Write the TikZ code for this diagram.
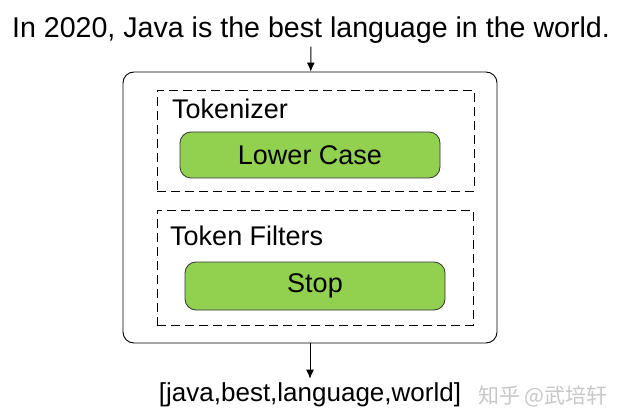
\documentclass[tikz,border=0pt]{standalone}
\usepackage{fontspec}
\setmainfont{Liberation Sans}
\newfontfamily\cjk{Noto Sans CJK SC}
\usepackage{xcolor}
\usetikzlibrary{arrows.meta, positioning}

\definecolor{leafgreen}{HTML}{92D050}

\tikzset{
    txt/.style={inner sep=0pt, font=\fontsize{27}{30}\selectfont},
    stagebox/.style={draw, dashed, dash pattern=on 9pt off 5pt, line width=0.9pt},
    filterbox/.style={draw=black!80, fill=leafgreen, rounded corners=11pt, line width=0.8pt,
        minimum width=260pt, font=\fontsize{27}{30}\selectfont},
    flow/.style={-{Latex[length=9pt, width=8pt]}, line width=0.9pt}
}

\begin{document}
\begin{tikzpicture}[x=1pt, y=-1pt]
    \useasboundingbox (0,0) rectangle (617,419);

    \node[txt, font=\fontsize{28.6}{32}\selectfont] (sentence) at (311,30) {In 2020, Java is the best language in the world.};

    \node[draw, rounded corners=11pt, line width=0.9pt, minimum width=374pt, minimum height=271pt] (analyzer) at (310,207.5) {};

    \node[stagebox, minimum width=317pt, minimum height=101pt] (tokenizer) at (315.5,140.5) {};
    \node[txt, anchor=base west] (tokenizertitle) at (172,119) {Tokenizer};
    \node[filterbox, minimum height=46pt] (lowercase) at (310,155) {Lower Case};

    \node[stagebox, minimum width=316pt, minimum height=115pt] (filters) at (315,267.5) {};
    \node[txt, anchor=base west] (filterstitle) at (170,245) {Token Filters};
    \node[filterbox, minimum height=48pt] (stop) at (315,286) {Stop};

    \node[txt, font=\fontsize{26}{30}\selectfont] (tokens) at (310,395) {[java,best,language,world]};
    \node[inner sep=0pt, text=black!22, font=\cjk\fontsize{21}{24}\selectfont] (mark) at (543,396) {知乎 @武培轩};

    \draw[flow, shorten <=3pt] (sentence) -- (analyzer);
    \draw[flow, shorten >=4pt] (analyzer) -- (tokens);
\end{tikzpicture}
\end{document}
